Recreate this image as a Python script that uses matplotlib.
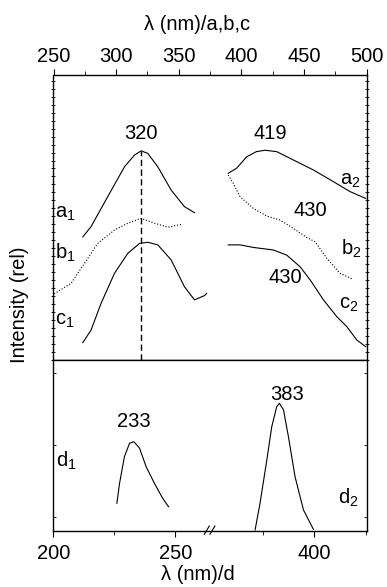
import numpy as np
import matplotlib
matplotlib.use('Agg')
import matplotlib.pyplot as plt
from matplotlib.ticker import MultipleLocator, FixedLocator

plt.rcParams['font.family'] = ['Liberation Sans', 'DejaVu Sans']
plt.rcParams['mathtext.default'] = 'regular'
fs = 14.5

# excitation / emission spectra, samples a,b,c (nm, relative intensity)
a1_nm = [273.4, 280, 293.3, 306.7, 314.7, 320, 325.3, 333.3, 344, 354.6, 362.6]
a1_int = [43.2, 46.8, 57.3, 67.8, 71.9, 73.4, 72.5, 67.8, 59.6, 53.8, 51.7]
b1_nm = [250.5, 264, 274.7, 285.3, 298.7, 309.3, 320, 330.6, 341.3, 352.5]
b1_int = [23.2, 26.9, 33.9, 40.9, 45.6, 48.0, 49.7, 48.0, 46.6, 47.6]
c1_nm = [273.4, 280, 288, 298.7, 309.3, 318.7, 325.3, 333.3, 344, 354.6, 362.6, 370.6, 372.4]
c1_int = [6.1, 10.5, 19.9, 30.4, 37.4, 40.9, 41.3, 40.4, 35.1, 25.7, 21.1, 22.6, 23.4]

a2_nm = [389.6, 396.3, 404.3, 412, 419, 428.3, 441.5, 457.5, 473.5, 486.8, 499.4]
a2_int = [65.5, 67.3, 71.3, 73.1, 73.6, 73.1, 70.2, 66.7, 62.6, 59.1, 56.7]
b2_nm = [389.6, 393.6, 399, 409.6, 420.3, 431, 441.5, 452.3, 458.9, 468.3, 478.9, 489.5]
b2_int = [64.9, 62.0, 57.3, 53.2, 50.5, 49.1, 46.2, 43.0, 41.5, 35.7, 30.4, 28.3]
c2_nm = [389.6, 399, 409.6, 425.6, 436.3, 447, 455, 465.6, 476.3, 484.3, 492.3, 499.4]
c2_int = [40.4, 40.4, 39.5, 38.6, 36.8, 32.7, 28.1, 21.1, 15.2, 11.7, 7.0, 4.7]

# sample d
d1_nm = [226, 227.1, 229.1, 231.2, 233, 235.3, 238, 241.4, 244.8, 247.2]
d1_int = [16.2, 27.9, 43.5, 51.3, 52.2, 48.4, 37.6, 27.9, 19.1, 14.2]
d2_nm = [371.2, 373.6, 376.9, 379.3, 381.7, 383, 385, 387.4, 390.6, 394.7, 399.5]
d2_int = [0.6, 16.2, 41.5, 61, 72.7, 74.7, 70.8, 55.1, 31.8, 12.3, 1.0]

peak_abc = 320
peak_d = [233, 383]

# broken wavelength axis for d: 200-264 and 349-425 on different scales
brk_nm = [200, 263.9, 349.0, 430]
brk_px = [0, 155.8, 155.9, 155.9 + 81 * 2.06]

def fwd(x):
    return np.interp(x, brk_nm, brk_px)

def inv(y):
    return np.interp(y, brk_px, brk_nm)

fig = plt.figure(figsize=(3.87, 5.87), dpi=100)
W, H = 387.0, 587.0
ax1 = fig.add_axes([53.5 / W, (H - 360) / H, 313 / W, 285 / H])
ax2 = fig.add_axes([53.5 / W, (H - 531) / H, 313 / W, 171 / H])

lw = 0.8
ax1.plot(a1_nm, a1_int, 'k-', lw=lw)
ax1.plot(b1_nm, b1_int, 'k:', lw=lw)
ax1.plot(c1_nm, c1_int, 'k-', lw=lw)
ax1.plot(a2_nm, a2_int, 'k-', lw=lw)
ax1.plot(b2_nm, b2_int, 'k:', lw=lw)
ax1.plot(c2_nm, c2_int, 'k-', lw=lw)
ax1.plot([peak_abc, peak_abc], [0, max(a1_int)], color='k', lw=1.0, ls=(0, (4.5, 2.5)))

ax1.set_xlim(250, 500)
ax1.set_ylim(0, 100)
ax1.xaxis.tick_top()
ax1.xaxis.set_major_locator(MultipleLocator(50))
ax1.xaxis.set_minor_locator(MultipleLocator(25))
ax1.tick_params(axis='x', which='both', direction='out', labelsize=fs, pad=2.5)
ax1.tick_params(axis='x', which='major', length=4)
ax1.tick_params(axis='x', which='minor', length=3)
ax1.yaxis.set_major_locator(MultipleLocator(2.8))
ax1.tick_params(axis='y', which='both', direction='inout', length=2.5, width=0.6,
                left=True, right=True, labelleft=False)

ax1.text(peak_abc, 77.4, '320', ha='center', va='baseline', fontsize=fs)
ax1.text(423.5, 77.4, '419', ha='center', va='baseline', fontsize=fs)
ax1.text(454.9, 50.5, '430', ha='center', va='baseline', fontsize=fs)
ax1.text(434.9, 26.9, '430', ha='center', va='baseline', fontsize=fs)
ax1.text(251.5, 49.8, 'a$_1$', ha='left', va='baseline', fontsize=fs)
ax1.text(251.5, 35.7, 'b$_1$', ha='left', va='baseline', fontsize=fs)
ax1.text(251.5, 12.3, 'c$_1$', ha='left', va='baseline', fontsize=fs)
ax1.text(486.8, 61.4, 'a$_2$', ha='center', va='baseline', fontsize=fs)
ax1.text(487.5, 36.8, 'b$_2$', ha='center', va='baseline', fontsize=fs)
ax1.text(485.5, 18.1, 'c$_2$', ha='center', va='baseline', fontsize=fs)

ax2.set_xscale('function', functions=(fwd, inv))
ax2.plot(d1_nm, d1_int, 'k-', lw=lw)
ax2.plot(d2_nm, d2_int, 'k-', lw=lw)
ax2.set_xlim(200, 425.3)
ax2.set_ylim(0, 100)
ax2.xaxis.set_major_locator(FixedLocator([200, 250, 400]))
ax2.xaxis.set_minor_locator(FixedLocator([225, 375, 425]))
ax2.xaxis.set_major_formatter(plt.FormatStrFormatter('%d'))
ax2.xaxis.set_minor_formatter(plt.NullFormatter())
ax2.tick_params(axis='x', which='both', direction='out', labelsize=fs, pad=5.5)
ax2.tick_params(axis='x', which='major', length=4)
ax2.tick_params(axis='x', which='minor', length=3)
ax2.yaxis.set_major_locator(FixedLocator([8.2, 50.3, 92.4]))
ax2.tick_params(axis='y', which='both', direction='in', length=2.5, width=0.6,
                left=True, right=True, labelleft=False)

ax2.text(peak_d[0], 61, '233', ha='center', va='baseline', fontsize=fs)
ax2.text(386.6, 76.6, '383', ha='center', va='baseline', fontsize=fs)
ax2.text(201, 37.6, 'd$_1$', ha='left', va='baseline', fontsize=fs)
ax2.text(416.5, 16.2, 'd$_2$', ha='center', va='baseline', fontsize=fs)

# break marks on the lower wavelength axis
for x0 in (0.4818, 0.4997):
    ax2.plot([x0, x0 + 0.016], [-0.019, 0.029], color='k', lw=0.8,
             transform=ax2.transAxes, clip_on=False)

for ax in (ax1, ax2):
    for sp in ax.spines.values():
        sp.set_linewidth(1.0)

fig.text(197.5 / W, 1 - 25 / H, 'λ (nm)/a,b,c', ha='center', va='center', fontsize=fs)
fig.text(198 / W, 1 - 575 / H, 'λ (nm)/d', ha='center', va='center', fontsize=fs)
fig.text(20 / W, 1 - 305 / H, 'Intensity (rel)', ha='center', va='center',
         rotation=90, fontsize=fs)

fig.savefig('out.png', dpi=100)
